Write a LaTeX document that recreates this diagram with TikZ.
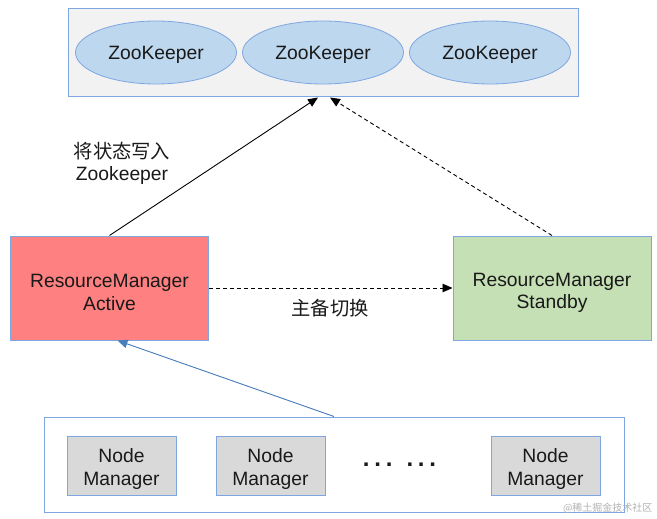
\documentclass[tikz,border=0pt]{standalone}
\usepackage{fontspec}
\setmainfont{Liberation Sans}
\newfontfamily\cjk{Noto Sans CJK SC}
\usetikzlibrary{shapes.geometric,arrows.meta,calc}
\definecolor{bordercol}{HTML}{7EA6E0}
\definecolor{zkfill}{HTML}{BDD7EE}
\definecolor{boxfill}{HTML}{F2F2F2}
\definecolor{activefill}{HTML}{FF8080}
\definecolor{standbyfill}{HTML}{C5E0B4}
\definecolor{nmfill}{HTML}{D9D9D9}
\definecolor{bluearrow}{HTML}{4A7EBB}
\tikzset{
  txt/.style={font=\fontsize{19.3}{22.5}\selectfont, align=center, text=black!90},
  outerbox/.style={draw=bordercol, line width=1pt, inner sep=0pt},
  zk/.style={ellipse, draw=bordercol, fill=zkfill, line width=0.8pt, minimum width=161pt, minimum height=63pt, inner sep=0pt, txt, text depth=0pt},
  rmbox/.style={draw=bordercol, line width=1pt, minimum width=198pt, minimum height=104pt, inner sep=0pt, txt},
  nmbox/.style={draw=bordercol, fill=nmfill, line width=1pt, minimum width=109pt, minimum height=59pt, inner sep=0pt, txt},
  arr/.style={-{Triangle[length=10pt,width=8.5pt]}, line width=0.9pt},
  cjklabel/.style={font=\fontsize{19.3}{22.5}\selectfont, align=center, text=black!90}
}
\begin{document}
\begin{tikzpicture}[x=1pt,y=-1pt]
\useasboundingbox (0,0) rectangle (657,519);
% top ZooKeeper box
\node[outerbox, fill=boxfill, minimum width=510pt, minimum height=88pt] (zkbox) at (323,53) {};
\node[zk] (zk1) at (156,52.5) {ZooKeeper};
\node[zk] (zk2) at (323,52.5) {ZooKeeper};
\node[zk] (zk3) at (490,52.5) {ZooKeeper};
% resource managers
\node[rmbox, fill=activefill] (rma) at (109.5,288) {\rule{0pt}{22.6pt}ResourceManager\\Active};
\node[rmbox, fill=standbyfill] (rms) at (552,288) {\rule{0pt}{22.6pt}ResourceManager\\Standby};
% node manager box
\node[outerbox, fill=white, minimum width=580pt, minimum height=95pt] (nmb) at (334,464.5) {};
\node[nmbox] (nm1) at (121.5,466) {\rule{0pt}{20pt}Node\\Manager};
\node[nmbox] (nm2) at (270.5,466) {\rule{0pt}{20pt}Node\\Manager};
\node[nmbox] (nm3) at (545.5,466) {\rule{0pt}{20pt}Node\\Manager};
\node[anchor=base, inner sep=0pt, font=\fontsize{24}{24}\selectfont\bfseries, text=black!90] (dots) at (399.5,466) {.\kern4.8pt.\kern4.8pt.\kern14pt.\kern4.8pt.\kern4.8pt.};
% labels
\node[cjklabel] (lbl1) at (122,163.5) {{\cjk 将状态写入}\\Zookeeper};
\node[cjklabel] (lbl2) at (330,308) {\cjk 主备切换};
\node[font=\fontsize{10}{12}\selectfont, text=black!30, anchor=east] (wm) at (656,508) {\cjk @稀土掘金技术社区};
% connectors
\coordinate (zkin1) at ($(zkbox.south)+(-5,0)$);
\coordinate (zkin2) at ($(zkbox.south)+(7,0)$);
\draw[arr] (rma.north) -- (zkin1);
\draw[arr, dashed, dash pattern=on 4pt off 3pt] (rms.north) -- (zkin2);
\draw[arr, dashed, dash pattern=on 4pt off 3pt] (rma.east) -- (rms.west);
\draw[arr, draw=bluearrow, fill=bluearrow] (nmb.north) -- ($(rma.south)+(8,0)$);
\end{tikzpicture}
\end{document}
